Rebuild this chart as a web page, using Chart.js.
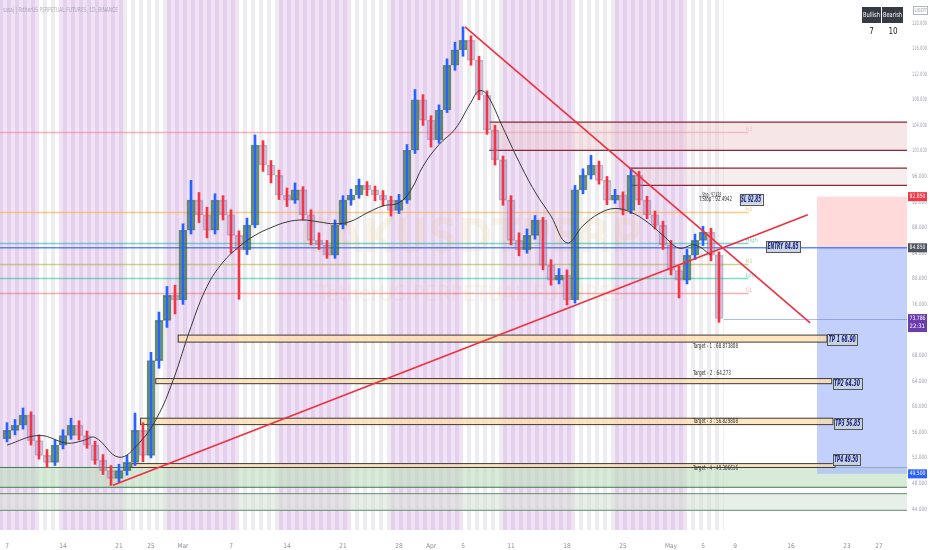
<!DOCTYPE html>
<html>
<head>
<meta charset="utf-8">
<script src="https://cdn.jsdelivr.net/npm/chart.js@4.4.1/dist/chart.umd.min.js"></script>
<style>
  html, body { margin: 0; padding: 0; background: #fff; }
  #wrap { width: 932px; height: 550px; position: relative; }
</style>
</head>
<body>
<div id="wrap"><canvas id="myChart"></canvas></div>
<script>
// daily candles, day 0 = Feb 7
let opens = [55.0, 56.3, 57.1, 58.7, 54.7, 52.4, 51.3, 54.0, 55.5, 57.1, 55.5, 54.0, 51.6, 50.0, 48.8, 50.0, 51.3, 56.3, 52.4, 67.2,
  73.5, 77.4, 76.7, 87.6, 92.3, 90.0, 87.6, 92.3, 90.0, 86.8, 84.5, 88.4, 100.9, 97.8, 96.2, 93.1, 92.3, 93.9, 90.0, 86.0,
  85.3, 83.7, 88.4, 92.3, 93.1, 94.6, 93.9, 93.1, 92.3, 90.7, 92.3, 100.1, 108.0, 104.8, 101.7, 106.4, 113.4, 115.8, 117.3, 114.2,
  108.7, 103.3, 98.6, 92.3, 86.0, 84.5, 86.8, 89.2, 82.1, 79.8, 80.6, 76.7, 93.9, 96.2, 97.8, 95.4, 92.3, 93.1, 90.7, 96.2,
  92.3, 90.0, 88.4, 85.3, 81.3, 79.8, 83.7, 86.0, 87.3, 83.7];
let highs = [57.5, 58.0, 59.8, 59.2, 55.6, 53.3, 54.8, 56.4, 58.2, 57.8, 56.2, 54.6, 52.5, 50.8, 51.0, 52.4, 59.0, 57.5, 68.5, 74.8,
  78.8, 79.0, 88.6, 95.4, 93.5, 91.2, 93.3, 93.0, 90.8, 87.5, 89.5, 102.5, 101.6, 98.5, 97.0, 94.2, 95.0, 94.4, 90.8, 87.2,
  86.0, 89.2, 93.0, 94.0, 95.6, 95.2, 94.5, 93.8, 92.9, 93.2, 101.0, 109.6, 108.8, 105.5, 107.2, 114.4, 117.0, 119.4, 118.0, 114.8,
  109.4, 104.0, 99.2, 93.0, 87.2, 87.8, 89.9, 89.6, 83.0, 81.6, 81.4, 94.6, 97.2, 99.3, 98.4, 96.0, 94.0, 93.6, 97.3, 96.8,
  92.9, 90.6, 89.0, 86.0, 82.0, 84.6, 87.0, 88.2, 87.9, 84.2];
let lows = [54.5, 55.6, 56.5, 54.0, 51.8, 50.5, 50.8, 53.4, 54.9, 54.8, 53.5, 51.0, 49.4, 47.7, 48.2, 49.3, 50.8, 51.4, 52.0, 66.0,
  72.4, 74.5, 76.0, 87.0, 88.8, 86.4, 87.0, 89.2, 84.0, 76.8, 83.8, 88.0, 96.8, 95.0, 92.4, 91.3, 91.8, 89.2, 85.3, 84.6,
  83.2, 83.2, 87.8, 91.5, 92.6, 93.0, 92.2, 91.4, 89.8, 90.2, 91.8, 99.6, 104.0, 100.6, 101.2, 106.0, 112.6, 114.8, 113.4, 108.0,
  102.6, 97.8, 91.5, 85.3, 83.6, 84.0, 86.2, 81.4, 79.0, 79.2, 75.9, 76.2, 93.3, 95.6, 94.8, 91.6, 91.8, 90.0, 90.2, 91.6,
  89.4, 87.8, 84.6, 80.6, 77.0, 79.2, 83.0, 85.2, 82.8, 73.2];
let closes = [56.3, 57.1, 58.7, 54.7, 52.4, 51.3, 54.0, 55.5, 57.1, 55.5, 54.0, 51.6, 50.0, 48.8, 50.0, 51.3, 56.3, 52.4, 67.2, 73.5,
  77.4, 76.7, 87.6, 92.3, 90.0, 87.6, 92.3, 90.0, 86.8, 84.5, 88.4, 100.9, 97.8, 96.2, 93.1, 92.3, 93.9, 90.0, 86.0, 85.3,
  83.7, 88.4, 92.3, 93.1, 94.6, 93.9, 93.1, 92.3, 90.7, 92.3, 100.1, 108.0, 104.8, 101.7, 106.4, 113.4, 115.8, 117.3, 114.2, 108.7,
  103.3, 98.6, 92.3, 86.0, 84.5, 86.8, 89.2, 82.1, 79.8, 80.6, 76.7, 93.9, 96.2, 97.8, 95.4, 92.3, 93.1, 90.7, 96.2, 92.3,
  90.0, 88.4, 85.3, 81.3, 79.8, 83.7, 86.0, 87.3, 83.7, 73.8];

// moving average
let maDays = [0, 4, 7.5, 9.5, 11, 14, 16.5, 18.75, 20.75, 23, 25, 27, 29, 31, 33, 35, 37, 39, 41, 43, 45, 47, 49, 50.5, 52, 54, 56, 58, 59, 60, 62, 64, 66, 68, 70, 72, 74, 76, 78, 80, 82, 84, 86, 88];
let maValues = [54.0, 55.5, 54.3, 54.7, 55.2, 52.1, 54.3, 58.3, 64.1, 72.5, 78.8, 82.6, 85.0, 86.8, 88.0, 88.9, 89.2, 88.9, 88.6, 89.0, 90.3, 91.4, 91.9, 93.9, 97.6, 101.0, 103.4, 107.6, 109.4, 108.8, 103.6, 98.3, 93.6, 89.8, 85.6, 88.3, 90.2, 91.0, 90.4, 88.9, 86.8, 84.8, 85.3, 83.7];

let xTickDays = [0, 7, 14, 18, 22, 28, 35, 42, 49, 53, 57, 63, 70, 77, 83, 87, 91, 98, 105, 109];
let xTickLabels = ['7', '14', '21', '25', 'Mar', '7', '14', '21', '28', 'Apr', '5', '11', '18', '25', 'May', '5', '9', '16', '23', '27'];
let priceTicks = [44, 48, 52, 56, 60, 64, 68, 72, 76, 80, 84, 88, 92, 96, 100, 104, 108, 112, 116, 120];

// session shading [from day, to day]
let sessionRanges = [[-1, 4.1], [6.3, 14.4], [20.1, 29.1], [34.1, 43.2], [48.1, 57.0], [62.1, 71.1], [76.1, 85.1]];
let lastBarDay = 89.6;

// trend lines [day, price]
let fallLine = [[57.25, 119.4], [100.4, 73.1]];
let riseLine = [[13.25, 47.7], [100.1, 90.0]];

// trade plan
let entryPrice = 84.85;
let slPrice = 92.85;
let tpPrices = [68.90, 64.30, 56.85, 49.50];
let tpNames = ['TP 1', 'TP2', 'TP3', 'TP4'];
let lastPrice = 73.786;
let countdown = '22:31';
let positionStart = 101.25;

// zones [top, bottom, start day, end day]
let supplyZones = [[104.5, 100.1, 60.3], [97.3, 94.6, 77.9]];
let targetZones = [[71.2, 70.1, 21.4, 102.5], [64.4, 63.6, 18.6, 103.1], [58.2, 57.2, 16.7, 103.25], [51.1, 50.5, 15.6, 103.5]];
let targetTexts = ['Target - 1 : 68.873808', 'Target - 2 : 64.273', 'Target - 3 : 56.829808', 'Target - 4 : 49.386616'];
let targetTextPrices = [69.45, 65.2, 57.7, 50.4];
let demandZones = [[50.5, 47.4], [46.4, 43.8]];

// indicator levels
let levelPrices = [103.0, 90.4, 85.6, 82.3, 80.2, 77.8];
let levelNames = ['R3', 'R2', 'High', 'R1', 'Low', 'S1'];

let bullish = 7;
let bearish = 10;

let days = closes.map((c, i) => i);
let up = closes.map((c, i) => c >= opens[i]);

const FONT = '"DejaVu Sans Condensed", "Liberation Sans", sans-serif';

function inSession(d) {
    return sessionRanges.some(r => d >= r[0] && d < r[1]);
}

const bgPlugin = {
    id: 'bgStripes',
    beforeDraw(chart) {
        const ctx = chart.ctx;
        const x = chart.scales.x;
        const area = chart.chartArea;
        ctx.save();
        ctx.fillStyle = '#ffffff';
        ctx.fillRect(0, 0, chart.width, chart.height);
        for (let d = -1; d < lastBarDay; d += 0.5) {
            const half = Math.round(d * 2) % 2 === 0;
            if (inSession(d + 0.25)) {
                ctx.fillStyle = half ? 'rgba(224,200,235,0.85)' : 'rgba(238,222,245,0.85)';
            } else {
                ctx.fillStyle = half ? '#ffffff' : '#ededf0';
            }
            const x0 = Math.max(0, x.getPixelForValue(d));
            const x1 = Math.min(x.getPixelForValue(Math.min(d + 0.5, lastBarDay)), area.right);
            if (x1 > x0) ctx.fillRect(x0, 0, x1 - x0, area.bottom + 8);
        }
        ctx.restore();
    }
};

const zonePlugin = {
    id: 'zones',
    beforeDatasetsDraw(chart) {
        const ctx = chart.ctx;
        const x = chart.scales.x;
        const y = chart.scales.y;
        const a = chart.chartArea;
        ctx.save();

        // watermark
        ctx.fillStyle = 'rgba(230,190,120,0.16)';
        ctx.font = 'bold 46px ' + FONT;
        ctx.textAlign = 'center';
        ctx.textBaseline = 'middle';
        ctx.fillText('CAKUSDTPERP', x.getPixelForValue(58), y.getPixelForValue(86), 360);
        ctx.font = '22px ' + FONT;
        ctx.fillText('TetherUS PERPETUAL FUTURES', x.getPixelForValue(58), y.getPixelForValue(77.5), 330);

        // demand zones at the bottom
        demandZones.forEach((z, i) => {
            const t = y.getPixelForValue(z[0]), b = y.getPixelForValue(z[1]);
            ctx.fillStyle = i === 0 ? 'rgba(190,222,190,0.6)' : 'rgba(214,226,214,0.55)';
            ctx.fillRect(a.left, t, a.right - a.left, b - t);
            ctx.strokeStyle = i === 0 ? '#3d7a4a' : '#6a8a70';
            ctx.lineWidth = 1;
            ctx.beginPath();
            ctx.moveTo(a.left, t); ctx.lineTo(a.right, t);
            ctx.moveTo(a.left, b); ctx.lineTo(a.right, b);
            ctx.stroke();
        });

        // level lines
        const levelColors = ['rgba(242,120,130,0.55)', 'rgba(245,170,60,0.6)', 'rgba(0,170,150,0.5)', 'rgba(170,170,60,0.55)', 'rgba(0,190,140,0.5)', 'rgba(242,80,90,0.45)'];
        levelPrices.forEach((p, i) => {
            const py = Math.round(y.getPixelForValue(p)) + 0.5;
            ctx.strokeStyle = levelColors[i];
            ctx.lineWidth = 1.5;
            ctx.beginPath();
            ctx.moveTo(a.left, py); ctx.lineTo(x.getPixelForValue(92.7), py);
            ctx.stroke();
            ctx.fillStyle = levelColors[i];
            ctx.font = '6px ' + FONT;
            ctx.textAlign = 'left';
            ctx.fillText(levelNames[i], x.getPixelForValue(92.3), py - 3, 14);
        });

        // supply zones
        supplyZones.forEach((z, i) => {
            const t = y.getPixelForValue(z[0]), b = y.getPixelForValue(z[1]);
            const l = x.getPixelForValue(z[2]);
            ctx.fillStyle = i === 0 ? 'rgba(236,200,205,0.45)' : 'rgba(236,215,218,0.45)';
            ctx.fillRect(l, t, a.right - l, b - t);
            ctx.strokeStyle = '#8e2436';
            ctx.lineWidth = 1.2;
            ctx.beginPath();
            ctx.moveTo(l, t); ctx.lineTo(a.right, t);
            ctx.moveTo(l, b); ctx.lineTo(a.right, b);
            ctx.stroke();
        });

        // position tool
        const pl = x.getPixelForValue(positionStart);
        const ys = y.getPixelForValue(slPrice), ye = y.getPixelForValue(entryPrice), yt = y.getPixelForValue(tpPrices[3]);
        ctx.fillStyle = 'rgba(255,205,205,0.75)';
        ctx.fillRect(pl, ys, a.right - pl, ye - ys);
        ctx.fillStyle = 'rgba(170,190,250,0.72)';
        ctx.fillRect(pl, ye, a.right - pl, yt - ye);

        // entry line
        ctx.strokeStyle = 'rgba(41,98,255,0.75)';
        ctx.lineWidth = 1.5;
        ctx.beginPath();
        ctx.moveTo(a.left, ye); ctx.lineTo(a.right, ye);
        ctx.stroke();

        // last price line
        const yl = Math.round(y.getPixelForValue(lastPrice)) + 0.5;
        ctx.strokeStyle = 'rgba(100,120,200,0.5)';
        ctx.lineWidth = 1;
        ctx.beginPath();
        ctx.moveTo(x.getPixelForValue(lastBarDay), yl); ctx.lineTo(a.right, yl);
        ctx.stroke();

        // target zones
        targetZones.forEach((z) => {
            const t = y.getPixelForValue(z[0]), b = y.getPixelForValue(z[1]);
            const l = x.getPixelForValue(z[2]), r = x.getPixelForValue(z[3]);
            ctx.fillStyle = 'rgba(255,222,170,0.75)';
            ctx.fillRect(l, t, r - l, b - t);
            ctx.strokeStyle = '#3a3a3a';
            ctx.lineWidth = 1;
            ctx.strokeRect(l, t, r - l, b - t);
        });
        ctx.restore();
    },
    afterDatasetsDraw(chart) {
        const ctx = chart.ctx;
        const x = chart.scales.x;
        const y = chart.scales.y;
        const a = chart.chartArea;
        ctx.save();
        ctx.textBaseline = 'middle';

        // price axis labels (narrow, drawn on the library's y scale)
        ctx.font = '6px ' + FONT;
        ctx.fillStyle = '#a0a3ab';
        ctx.textAlign = 'left';
        priceTicks.forEach(v => {
            ctx.fillText(v.toFixed(3), a.right + 5, y.getPixelForValue(v), 15);
        });

        // target texts
        ctx.font = '7px ' + FONT;
        ctx.fillStyle = '#333';
        targetTexts.forEach((t, i) => {
            ctx.fillText(t, x.getPixelForValue(85.75), y.getPixelForValue(targetTextPrices[i]), t.length > 20 ? 45 : 38);
        });

        // stop texts
        ctx.fillText('Stop : 92.438', x.getPixelForValue(86.9), y.getPixelForValue(93.1), 19);
        ctx.fillText('T.Stop : 92.4942', x.getPixelForValue(86.5), y.getPixelForValue(92.5), 33);

        // trade labels
        function tag(text, d, p, w) {
            const cx = x.getPixelForValue(d), cy = y.getPixelForValue(p);
            ctx.fillStyle = 'rgba(200,210,225,0.92)';
            ctx.fillRect(cx - w / 2, cy - 5.5, w, 11);
            ctx.strokeStyle = '#555';
            ctx.lineWidth = 1;
            ctx.strokeRect(Math.round(cx - w / 2) + 0.5, Math.round(cy - 5.5) + 0.5, w, 11);
            ctx.font = 'italic bold 8px ' + FONT;
            ctx.fillStyle = '#1a237e';
            ctx.textAlign = 'center';
            ctx.fillText(text, cx, cy + 0.5, w - 3);
        }
        tag('SL ' + slPrice.toFixed(2), 93.0, 92.45, 23);
        tag('ENTRY ' + entryPrice.toFixed(2), 97.0, 85.0, 34);
        tag(tpNames[0] + ' ' + tpPrices[0].toFixed(2), 104.4, 70.55, 30);
        tag(tpNames[1] + ' ' + tpPrices[1].toFixed(2), 105.0, 63.7, 29);
        tag(tpNames[2] + ' ' + tpPrices[2].toFixed(2), 105.1, 57.4, 28);
        tag(tpNames[3] + ' ' + tpPrices[3].toFixed(2), 104.9, 51.7, 27);

        // axis price tags
        function priceTag(p, bg, sub) {
            const cy = y.getPixelForValue(p);
            const h = sub ? 18 : 9;
            ctx.fillStyle = bg;
            ctx.fillRect(a.right + 1, cy - 4.5, 19, h);
            ctx.fillStyle = '#fff';
            ctx.font = '6px ' + FONT;
            ctx.textAlign = 'left';
            ctx.fillText(p.toFixed(3), a.right + 2.5, cy, 16);
            if (sub) ctx.fillText(sub, a.right + 2.5, cy + 8, 16);
        }
        priceTag(slPrice, '#f23645');
        priceTag(entryPrice, '#50535e');
        priceTag(lastPrice, '#6a3cb0', countdown);
        priceTag(tpPrices[3], '#2962ff');

        // USDT box
        ctx.strokeStyle = '#b2b5be';
        ctx.lineWidth = 1;
        ctx.strokeRect(913.5, 6.5, 14, 8);
        ctx.fillStyle = '#9598a1';
        ctx.font = '5px ' + FONT;
        ctx.textAlign = 'center';
        ctx.fillText('USDT', 920.5, 10.5, 12);

        // bull / bear table
        ctx.fillStyle = '#363a45';
        ctx.fillRect(862, 7, 19, 16);
        ctx.fillRect(882, 7, 21, 16);
        ctx.fillStyle = '#ffffff';
        ctx.font = '7px ' + FONT;
        ctx.fillText('Bullish', 871.5, 15, 17);
        ctx.fillText('Bearish', 892.5, 15, 19);
        ctx.fillStyle = '#222';
        ctx.font = '8px ' + FONT;
        ctx.fillText(String(bullish), 871.5, 32);
        ctx.fillText(String(bearish), 893, 32);

        // title
        ctx.fillStyle = 'rgba(130,130,150,0.6)';
        ctx.font = '7px ' + FONT;
        ctx.textAlign = 'left';
        ctx.fillText('sasaj | TetherUS PERPETUAL FUTURES, 1D, BINANCE', 3, 10, 115);
        ctx.restore();
    }
};

const ctx = document.getElementById('myChart').getContext('2d');
const myChart = new Chart(ctx, {
    type: 'bar',
    data: {
        datasets: [
            {
                type: 'line',
                label: 'falling trend',
                data: fallLine.map(p => ({ x: p[0], y: p[1] })),
                borderColor: '#f0303f',
                borderWidth: 1.6,
                pointRadius: 0,
                order: 1
            },
            {
                type: 'line',
                label: 'rising trend',
                data: riseLine.map(p => ({ x: p[0], y: p[1] })),
                borderColor: '#f0303f',
                borderWidth: 1.6,
                pointRadius: 0,
                order: 1
            },
            {
                type: 'line',
                label: 'MA',
                data: maDays.map((d, i) => ({ x: d, y: maValues[i] })),
                borderColor: '#3a3a3a',
                borderWidth: 1,
                pointRadius: 0,
                tension: 0.4,
                order: 2
            },
            {
                label: 'wick',
                data: days.map(i => ({ x: i, y: [lows[i], highs[i]] })),
                backgroundColor: up.map(u => u ? '#2962ff' : '#f23645'),
                barThickness: 2,
                grouped: false,
                order: 3
            },
            {
                label: 'body',
                data: days.map(i => ({ x: i, y: [opens[i], closes[i]] })),
                backgroundColor: up.map(u => u ? 'rgba(56,120,60,0.7)' : 'rgba(165,140,215,0.4)'),
                borderColor: up.map(u => u ? 'rgba(40,80,40,0.6)' : 'rgba(120,110,140,0.45)'),
                borderWidth: 1,
                borderSkipped: false,
                barThickness: 8,
                grouped: false,
                order: 4
            }
        ]
    },
    options: {
        responsive: true,
        maintainAspectRatio: false,
        animation: false,
        layout: { padding: 0 },
        plugins: {
            legend: { display: false },
            tooltip: { enabled: false }
        },
        scales: {
            x: {
                type: 'linear',
                offset: false,
                min: -0.875,
                max: 112.5,
                grid: { display: false },
                border: { display: false },
                ticks: {
                    color: '#8a8d96',
                    font: { size: 6.5, family: FONT },
                    maxRotation: 0,
                    autoSkip: false,
                    padding: 12,
                    callback: function (value) {
                        const i = xTickDays.indexOf(value);
                        return i >= 0 ? xTickLabels[i] : '';
                    }
                },
                afterBuildTicks: function (scale) {
                    scale.ticks = xTickDays.map(v => ({ value: v }));
                },
                afterFit: function (scale) {
                    scale.height = 28;
                    scale.paddingLeft = 0;
                    scale.paddingRight = 0;
                }
            },
            y: {
                position: 'right',
                min: 41.97,
                max: 123.6,
                grid: { display: false },
                border: { display: false },
                ticks: { display: false },
                afterBuildTicks: function (scale) {
                    scale.ticks = priceTicks.map(v => ({ value: v }));
                },
                afterFit: function (scale) {
                    scale.width = 25;
                    scale.paddingTop = 0;
                    scale.paddingBottom = 0;
                }
            }
        }
    },
    plugins: [bgPlugin, zonePlugin]
});
</script>
</body>
</html>
